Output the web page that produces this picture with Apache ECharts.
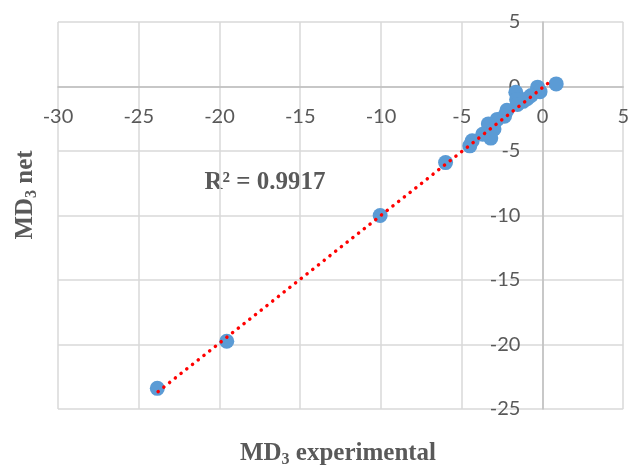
<!DOCTYPE html>
<html>
<head>
<meta charset="utf-8">
<script src="https://cdn.jsdelivr.net/npm/echarts@6/dist/echarts.min.js"></script>
<style>
  html, body { margin: 0; padding: 0; background: #fff; }
  #chart { width: 632px; height: 470px; }
</style>
</head>
<body>
<div id="chart"></div>
<script>
// MD3 experimental vs MD3 net
const expValues = [0.85, -0.3, -0.15, -0.7, -0.95, -1.2, -1.65, -1.6, -1.55, -2.2, -2.35, -2.8, -3.35, -3.0, -3.2, -3.7, -4.35, -4.5, -6.0, -10.05, -19.55, -23.85];
const netValues = [0.2, -0.05, -0.4, -0.7, -0.95, -1.15, -0.45, -1.0, -1.4, -1.85, -2.3, -2.55, -2.9, -3.3, -4.0, -3.7, -4.2, -4.6, -5.9, -10.0, -19.75, -23.4];

// linear trendline ends
const trendX = [-23.8, 0.5];
const trendY = [-23.65, 0.4];

const xTicks = [-30, -25, -20, -15, -10, -5, 0, 5];
const yTicks = [-25, -20, -15, -10, -5, 0, 5];

const chart = echarts.init(document.getElementById('chart'));

const labelFont = 'Lato, "Open Sans", sans-serif';
const titleFont = '"Liberation Serif", "Times New Roman", serif';
const gray = '#595959';

const titleRich = {
    a: { fontFamily: titleFont, fontWeight: 'bold', fontSize: 25, fill: gray, color: gray },
    s: { fontFamily: titleFont, fontWeight: 'bold', fontSize: 16, fill: gray, color: gray, padding: [12, 0, 0, 0] }
};

const option = {
    animation: false,
    grid: { left: 58, right: 6, top: 22, bottom: 61 },
    xAxis: {
        type: 'value',
        position: 'bottom',
        min: xTicks[0],
        max: xTicks[xTicks.length - 1],
        interval: 5,
        axisLine: { onZero: false, lineStyle: { color: '#bfbfbf', width: 1.5 } },
        axisTick: { show: false },
        axisLabel: {
            color: gray, fontSize: 20, fontFamily: labelFont, margin: 20,
            showMinLabel: true, showMaxLabel: true
        },
        splitLine: { show: true, lineStyle: { color: '#d9d9d9', width: 1.5 } }
    },
    yAxis: {
        type: 'value',
        position: 'left',
        min: yTicks[0],
        max: yTicks[yTicks.length - 1],
        interval: 5,
        axisLine: { onZero: false, lineStyle: { color: '#bfbfbf', width: 1.5 } },
        axisTick: { show: false },
        axisLabel: {
            color: gray, fontSize: 20, fontFamily: labelFont, margin: 22,
            showMinLabel: true, showMaxLabel: true
        },
        splitLine: { show: true, lineStyle: { color: '#d9d9d9', width: 1.5 } }
    },
    series: [
        {
            name: 'MD3',
            type: 'scatter',
            symbolSize: 15,
            itemStyle: { color: '#5b9bd5', opacity: 1 },
            data: expValues.map((v, i) => [v, netValues[i]]),
            z: 2
        },
        {
            name: 'trend',
            type: 'line',
            symbol: 'none',
            silent: true,
            lineStyle: { color: '#ff0000', width: 3.5, type: [0.1, 7.2], cap: 'round' },
            data: trendX.map((v, i) => [v, trendY[i]]),
            z: 3
        }
    ],
    graphic: [
        {
            type: 'text',
            x: 26, y: 195,
            rotation: Math.PI / 2,
            style: {
                text: '{a|MD}{s|3}{a| net}',
                align: 'center', verticalAlign: 'middle',
                fill: gray,
                rich: titleRich
            }
        },
        {
            type: 'text',
            x: 338, y: 454,
            style: {
                text: '{a|MD}{s|3}{a| experimental}',
                align: 'center', verticalAlign: 'middle',
                fill: gray,
                rich: titleRich
            }
        },
        {
            type: 'text',
            x: 265, y: 183,
            style: {
                text: 'R² = 0.9917',
                align: 'center', verticalAlign: 'middle',
                fontFamily: titleFont, fontWeight: 'bold', fontSize: 25, fill: gray
            }
        }
    ]
};

chart.setOption(option);

// move both axes so they cross at the origin, like the original
const origin = chart.convertToPixel({ gridIndex: 0 }, [0, 0]);
const corner = chart.convertToPixel({ gridIndex: 0 }, [xTicks[0], yTicks[0]]);
chart.setOption({
    xAxis: { offset: -(corner[1] - origin[1]) },
    yAxis: { offset: -(origin[0] - corner[0]) }
});
</script>
</body>
</html>
